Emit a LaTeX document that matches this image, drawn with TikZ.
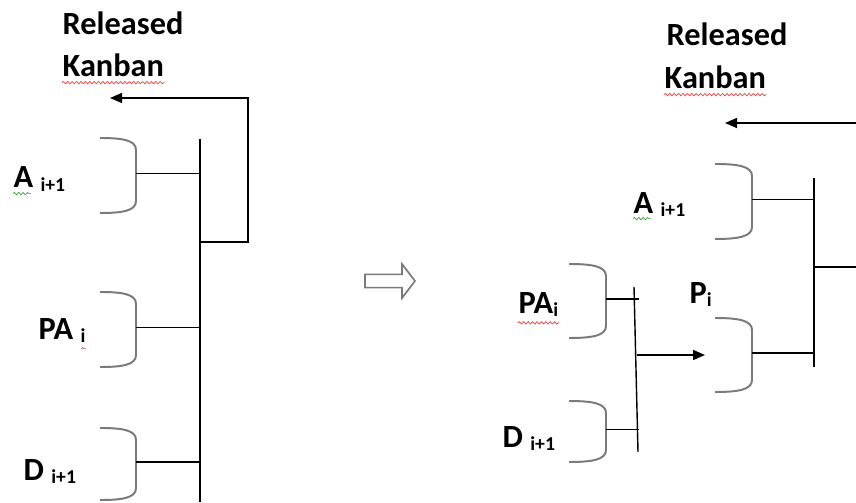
\documentclass[tikz,border=0pt]{standalone}
\usepackage{fontspec}
\setmainfont{Carlito}
\usepackage{tikz}
\usetikzlibrary{arrows.meta,decorations.pathmorphing}
\definecolor{bracegray}{HTML}{7A7A7A}
\definecolor{squigred}{HTML}{F04040}
\definecolor{squiggreen}{HTML}{3AA03A}
% index set lower and smaller than the letter
\newcommand{\lowidx}[1]{\raisebox{-0.08cm}{\fontsize{14}{16}\selectfont #1}}
% a rounded bracket: name of its stub point, left x, right x, top y, bottom y
\newcommand{\kbrace}[5]{%
  \draw[curl] (#2,#4) .. controls ({#2+0.55},#4) and (#3,{#4-0.05}) .. (#3,{#4-0.3})
    -- (#3,{#5+0.3}) .. controls (#3,{#5+0.05}) and ({#2+0.55},#5) .. (#2,#5);
  \coordinate (#1) at (#3,{(#4+#5)/2+0.05});}

\begin{document}
\begin{tikzpicture}[x=1cm, y=1cm, line width=1pt,
    lab/.style={anchor=base west, inner sep=0pt, font=\fontsize{23}{27}\selectfont\bfseries},
    bar/.style={line width=1.6pt},
    stub/.style={line width=1pt},
    curl/.style={bracegray, line width=1.4pt},
    tip/.style={-{Triangle[length=3mm, width=2.5mm]}},
    squig/.style={decorate, line width=0.5pt,
                  decoration={snake, amplitude=0.3mm, segment length=1.1mm}}]
  \useasboundingbox (0,0) rectangle (21.4,12.55);
  % left: three brackets on one bar, kanban sent back over the top
  \node[lab] (relL) at (1.55,11.675) {Released};
  \node[lab] (kanL) at (1.55,10.625) {Kanban};
  \draw[squig, squigred] ([yshift=-4pt]kanL.base west) -- ([yshift=-4pt]kanL.base east);
  \coordinate (barTopL) at (5.0,9.075);
  \coordinate (barBotL) at (5.0,0);
  \draw[bar] (barTopL) -- (barBotL);
  \coordinate (loopFootL) at (5.0,6.5);
  \coordinate (kanTipL) at (2.75,10.1);
  \draw[stub, tip] (loopFootL) -- ++(1.2,0) |- (kanTipL);
  \kbrace{kbAL}{2.5}{3.4}{9.1}{7.225}
  \kbrace{kbPAL}{2.5}{3.4}{5.25}{3.375}
  \kbrace{kbDL}{2.5}{3.4}{1.85}{0.05}
  \foreach \k in {kbAL,kbPAL,kbDL}{
    \draw[stub] (\k) -- (\k -| barTopL);}
  \node[lab] (aL) at (0.325,7.85) {A \lowidx{i+1}};
  \draw[squig, squiggreen] ([yshift=-4pt]aL.base west) -- ++(0.45,0);
  \node[lab] (paL) at (0.95,4.075) {PA \lowidx{i}};
  \draw[squig, squigred] ([xshift=-3.5pt,yshift=-7pt]paL.base east) -- ++(0.12,0);
  \node[lab] (dL) at (0.575,0.55) {D \lowidx{i+1}};
  % the hollow arrow in between
  \draw[bracegray, fill=white, line width=1.2pt, line join=miter] (9.125,5.36)
    -- (10.05,5.36) -- (10.05,5.1) -- (10.375,5.525) -- (10.05,5.95)
    -- (10.05,5.69) -- (9.125,5.69) -- cycle;
  % right: PA and D joined first into P, then P and A
  \node[lab] (relR) at (16.65,11.4) {Released};
  \node[lab] (kanR) at (16.6,10.325) {Kanban};
  \draw[squig, squigred] ([yshift=-4pt]kanR.base west) -- ([yshift=-4pt]kanR.base east);
  \coordinate (kanFeedR) at (21.45,9.475);
  \coordinate (kanTipR) at (18.125,9.475);
  \draw[stub, tip] (kanFeedR) -- (kanTipR);
  \coordinate (barTopR) at (20.35,8.1);
  \coordinate (barBotR) at (20.35,3.375);
  \draw[bar] (barTopR) -- (barBotR);
  \coordinate (outR) at (21.45,5.875);
  \draw[stub] (outR -| barTopR) -- (outR);
  \kbrace{kbAR}{17.875}{18.8}{8.45}{6.575}
  \kbrace{kbPR}{17.875}{18.8}{4.6}{2.75}
  \foreach \k in {kbAR,kbPR}{
    \draw[stub] (\k) -- (\k -| barTopR);}
  \coordinate (barTopS) at (15.85,5.375);
  \coordinate (barBotS) at (15.95,1.25);
  \draw[stub] (barTopS) -- (barBotS);
  \kbrace{kbPAR}{14.225}{15.15}{5.95}{4.1}
  \kbrace{kbDR}{14.225}{15.15}{2.525}{1.0}
  \foreach \k in {kbPAR,kbDR}{
    \draw[stub] (\k) -- ([xshift=1pt]\k -| barBotS);}
  \coordinate (joinS) at (15.92,3.675);
  \coordinate (pTipR) at (17.625,3.675);
  \draw[stub, tip] (joinS) -- (pTipR);
  \node[lab] (aR) at (15.825,7.225) {A \lowidx{i+1}};
  \draw[squig, squiggreen] ([yshift=-4pt]aR.base west) -- ++(0.45,0);
  \node[lab] (paR) at (12.95,4.725) {PA\lowidx{i}};
  \draw[squig, squigred] ([yshift=-7pt]paR.base west) -- ([yshift=-7pt]paR.base east);
  \node[lab] (pR) at (17.225,4.975) {P\lowidx{i}};
  \node[lab] (dR) at (12.55,1.375) {D \lowidx{i+1}};
\end{tikzpicture}
\end{document}
